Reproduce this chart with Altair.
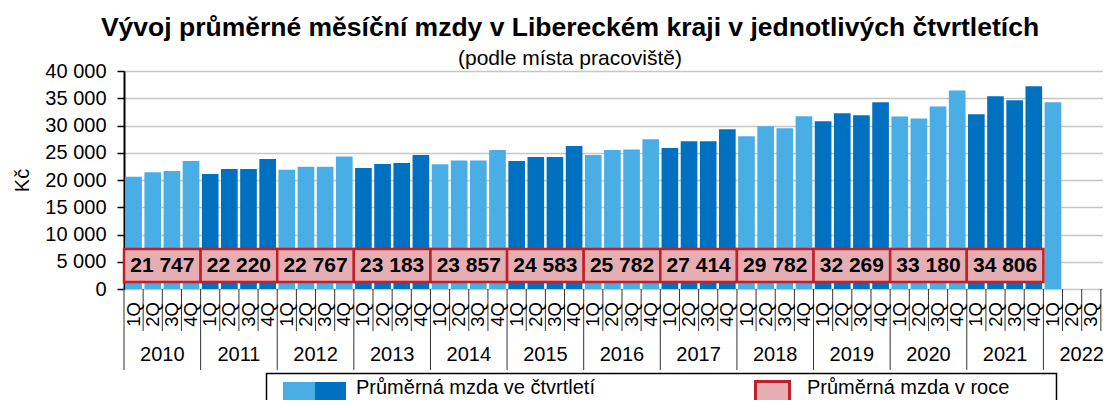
import altair as alt
import pandas as pd

# ---------------- data ----------------
years = list(range(2010, 2023))
quarters = ["1Q", "2Q", "3Q", "4Q"]
quarterly_wage = [
    20600, 21400, 21650, 23480,
    21100, 22010, 22010, 23840,
    21890, 22440, 22440, 24330,
    22200, 22930, 23100, 24570,
    22870, 23600, 23600, 25490,
    23480, 24210, 24210, 26220,
    24570, 25490, 25610, 27500,
    25850, 27130, 27130, 29330,
    28050, 29880, 29510, 31710,
    30790, 32260, 31890, 34270,
    31650, 31280, 33480, 36400,
    32070, 35370, 34630, 37200,
    34270,
]
annual_years = years[:-1]
annual_wage = [21747, 22220, 22767, 23183, 23857, 24583, 25782, 27414,
               29782, 32269, 33180, 34806]
legend_labels = ["Průměrná mzda ve čtvrtletí", "Průměrná mzda v roce"]
title_text = "Vývoj průměrné měsíční mzdy v Libereckém kraji v jednotlivých čtvrtletích"
subtitle_text = "(podle místa pracoviště)"
y_ticks = [0, 5000, 10000, 15000, 20000, 25000, 30000, 35000, 40000]

LIGHT = "#49ADE6"
DARK = "#0070C0"
BOX_FILL = "#E6AEB2"
BOX_STROKE = "#C0202A"
FONT = "Liberation Sans"

W = 996
H = 218
PAD_L = 116
PAD_T = 63
SVG_W = 1095
SVG_H = 392

# ---------------- tables ----------------
rows = []
for yi, yr in enumerate(years):
    for qi, q in enumerate(quarters):
        k = yi * 4 + qi
        rows.append({
            "slot": k,
            "year": yr,
            "quarter": q,
            "value": quarterly_wage[k] if k < len(quarterly_wage) else None,
            "shade": "a" if yi % 2 == 0 else "b",
        })
qdf = pd.DataFrame(rows)

adf = pd.DataFrame({
    "year": annual_years,
    "yi": list(range(len(annual_years))),
    "wage": annual_wage,
})
adf["label"] = [f"{v:,}".replace(",", " ") for v in annual_wage]

ydf = pd.DataFrame({"year": years, "yi": list(range(len(years)))})

bdf = pd.DataFrame({"b": list(range(len(years) * 4 + 1))})

x_scale = alt.Scale(domain=[0, len(years) * 4], nice=False, zero=False)
x_noaxis = dict(scale=x_scale, axis=None)

base_q = alt.Chart(qdf)

bars = base_q.mark_bar().transform_calculate(
    x0="datum.slot + 0.065", x1="datum.slot + 0.935"
).encode(
    x=alt.X("x0:Q", **x_noaxis),
    x2="x1:Q",
    y=alt.Y(
        "value:Q",
        scale=alt.Scale(domain=[0, 40000], nice=False),
        axis=alt.Axis(
            values=y_ticks,
            labelExpr="replace(format(datum.value, ','), ',', ' ')",
            title="Kč",
            titleFontSize=20,
            titleFontWeight="normal",
            titleFont=FONT,
            titleColor="black",
            titlePadding=12,
            labelFontSize=20,
            labelFont=FONT,
            labelColor="black",
            labelPadding=11,
            domainColor="black",
            domainWidth=2,
            tickColor="black",
            tickSize=7,
            tickWidth=1.5,
            gridColor="#C6C6C6",
            gridWidth=1.5,
        ),
    ),
    y2=alt.datum(0),
    color=alt.Color("shade:N", scale=alt.Scale(domain=["a", "b"], range=[LIGHT, DARK]), legend=None),
)

boxes = alt.Chart(adf).mark_rect(
    fill=BOX_FILL, stroke=BOX_STROKE, strokeWidth=2.5
).transform_calculate(
    xs="datum.yi * 4", xe="datum.yi * 4 + 4"
).encode(
    x=alt.X("xs:Q", **x_noaxis),
    x2="xe:Q",
    y=alt.value(178),
    y2=alt.value(211),
)

box_text = alt.Chart(adf).mark_text(
    font=FONT, fontSize=21, fontWeight="bold", color="black", baseline="middle"
).transform_calculate(
    xc="datum.yi * 4 + 2"
).encode(
    x=alt.X("xc:Q", **x_noaxis),
    y=alt.value(195),
    text="label:N",
)

q_labels = base_q.mark_text(
    font=FONT, fontSize=18.5, color="black", angle=270, align="right", baseline="middle"
).transform_calculate(
    xc="datum.slot + 0.5"
).encode(
    x=alt.X("xc:Q", **x_noaxis),
    y=alt.value(H + 13),
    text="quarter:N",
)

q_seps = alt.Chart(bdf).mark_rule(color="#333333", strokeWidth=1).transform_filter(
    "datum.b % 4 != 0"
).encode(
    x=alt.X("b:Q", **x_noaxis),
    y=alt.value(H),
    y2=alt.value(H + 42),
)

y_seps = alt.Chart(bdf).mark_rule(color="#333333", strokeWidth=1).transform_filter(
    "datum.b % 4 == 0"
).encode(
    x=alt.X("b:Q", **x_noaxis),
    y=alt.value(H),
    y2=alt.value(H + 81),
)

year_labels = alt.Chart(ydf).mark_text(
    font=FONT, fontSize=20, color="black", baseline="middle"
).transform_calculate(
    xc="datum.yi * 4 + 2"
).encode(
    x=alt.X("xc:Q", **x_noaxis),
    y=alt.value(H + 66),
    text="year:N",
)

# ---------------- legend (drawn manually) ----------------
leg_df = pd.DataFrame({"label": legend_labels, "i": [0, 1]})
leg_base = alt.Chart(leg_df)

leg_frame = leg_base.transform_filter("datum.i == 0").mark_rect(
    fill="white", stroke="black", strokeWidth=1.5
).encode(
    x=alt.value(142.5), x2=alt.value(932.5), y=alt.value(302.5), y2=alt.value(360)
)
leg_sw_light = leg_base.transform_filter("datum.i == 0").mark_rect(fill=LIGHT).encode(
    x=alt.value(159), x2=alt.value(191), y=alt.value(311), y2=alt.value(334)
)
leg_sw_dark = leg_base.transform_filter("datum.i == 0").mark_rect(fill=DARK).encode(
    x=alt.value(191), x2=alt.value(222), y=alt.value(311), y2=alt.value(334)
)
leg_sw_red = leg_base.transform_filter("datum.i == 1").mark_rect(
    fill=BOX_FILL, stroke=BOX_STROKE, strokeWidth=3
).encode(
    x=alt.value(631.5), x2=alt.value(665.5), y=alt.value(310.5), y2=alt.value(330.5)
)
leg_txt0 = leg_base.transform_filter("datum.i == 0").mark_text(
    font=FONT, fontSize=20, color="black", align="left", baseline="alphabetic"
).encode(x=alt.value(232), y=alt.value(323), text="label:N")
leg_txt1 = leg_base.transform_filter("datum.i == 1").mark_text(
    font=FONT, fontSize=20, color="black", align="left", baseline="alphabetic"
).encode(x=alt.value(683), y=alt.value(323), text="label:N")

chart = alt.layer(
    bars, boxes, box_text, q_seps, y_seps, q_labels, year_labels,
    leg_frame, leg_sw_light, leg_sw_dark, leg_sw_red, leg_txt0, leg_txt1,
).properties(
    width=W,
    height=H,
    autosize=alt.AutoSizeParams(type="none"),
    padding={"left": PAD_L, "top": PAD_T, "right": SVG_W - PAD_L - W, "bottom": SVG_H - PAD_T - H},
    title=alt.TitleParams(
        text=title_text,
        subtitle=subtitle_text,
        anchor="middle",
        frame="group",
        dx=-52,
        offset=-8,
        font=FONT,
        fontSize=26.5,
        fontWeight="bold",
        color="black",
        subtitleFont=FONT,
        subtitleFontSize=21,
        subtitleColor="black",
        subtitlePadding=7,
    ),
).configure_view(
    stroke="black", strokeWidth=2
).configure(background="white")

chart.save("out.html", embed_options={"renderer": "svg", "actions": False})
